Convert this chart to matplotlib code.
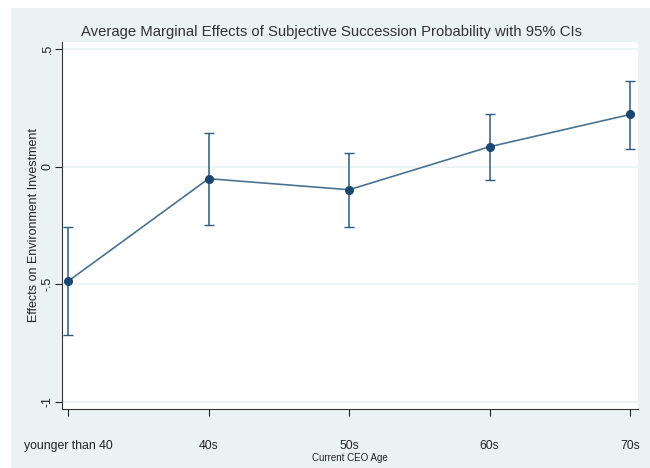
import matplotlib
matplotlib.use("Agg")
import matplotlib.pyplot as plt
from matplotlib.patches import Rectangle

categories = ["younger than 40", "40s", "50s", "60s", "70s"]
effects = [-0.487, -0.051, -0.098, 0.085, 0.222]
ci_low = [-0.714, -0.248, -0.256, -0.056, 0.077]
ci_high = [-0.256, 0.145, 0.060, 0.222, 0.363]
yticks = [-1, -0.5, 0, 0.5]
yticklabels = ["-1", "-.5", "0", ".5"]

plt.rcParams['font.family'] = ['Liberation Sans', 'DejaVu Sans']

W, H = 650, 468
fig = plt.figure(figsize=(6.5, 4.68), dpi=100)
fig.patch.set_facecolor("white")
bg = Rectangle((11 / W, 0), 1 - 11 / W, (H - 8) / H, transform=fig.transFigure,
               facecolor="#eaf2f3", edgecolor="none", zorder=-5)
fig.patches.append(bg)

ax = fig.add_axes([62 / W, (H - 409) / H, (638 - 62) / W, (409 - 42) / H])
ax.set_facecolor("white")

x = list(range(len(categories)))
line_col = "#4a7391"
mk_col = "#1a476f"
err_low = [e - l for e, l in zip(effects, ci_low)]
err_high = [h - e for e, h in zip(effects, ci_high)]
ax.errorbar(x, effects, yerr=[err_low, err_high], fmt="none", ecolor="#2e5b80",
            elinewidth=1.1, capsize=3.5, capthick=1.0, zorder=3)
ax.plot(x, effects, color=line_col, linewidth=1.2, zorder=4)
ax.plot(x, effects, "o", color=mk_col, markersize=5.5, zorder=5)

ax.set_xlim(-0.043, 4.055)
ax.set_ylim(-1.03, 0.53)
ax.set_yticks(yticks)
ax.set_yticklabels(yticklabels, rotation=90, va="center", fontsize=9)
ax.set_xticks(x)
ax.set_xticklabels(categories, fontsize=8.8)
ax.tick_params(axis="x", length=5, width=0.8, pad=17, colors="#222222")
ax.tick_params(axis="y", length=5, width=0.8, pad=1, colors="#222222")
for t in ax.get_xticklabels() + ax.get_yticklabels():
    t.set_color("#222222")

ax.grid(axis="y", color="#eaf2f3", linewidth=1.2, zorder=1)
ax.set_axisbelow(True)
for s in ["top", "right"]:
    ax.spines[s].set_visible(False)
for s in ["left", "bottom"]:
    ax.spines[s].set_color("#333333")
    ax.spines[s].set_linewidth(0.8)

ax.set_ylabel("Effects on Environment Investment", fontsize=9, color="#222222", labelpad=1)
ax.set_xlabel("Current CEO Age", fontsize=7, color="#222222", labelpad=1)
fig.text((83 + 580) / 2 / W, 1 - 32 / H,
         "Average Marginal Effects of Subjective Succession Probability with 95% CIs",
         ha="center", va="center", fontsize=10.7, color="#333333")

fig.savefig("out.png", dpi=100, facecolor=fig.get_facecolor())
